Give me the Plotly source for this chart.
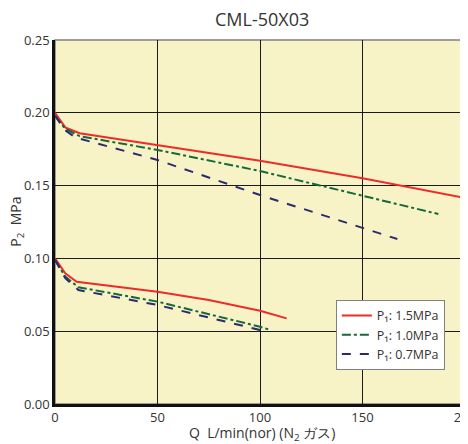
import plotly.graph_objects as go

# Upper set (P2 set ~0.20 MPa)
q_hi_15 = [0, 5, 12, 50, 100, 150, 200]
p_hi_15 = [0.200, 0.190, 0.186, 0.178, 0.167, 0.155, 0.1415]
q_hi_10 = [0, 5, 12, 50, 100, 150, 187]
p_hi_10 = [0.198, 0.189, 0.184, 0.1745, 0.160, 0.143, 0.1305]
q_hi_07 = [0, 5, 10, 50, 100, 150, 167]
p_hi_07 = [0.198, 0.188, 0.183, 0.1676, 0.1435, 0.121, 0.1133]

# Lower set (P2 set ~0.10 MPa)
q_lo_15 = [0, 5, 10.6, 50, 75, 100, 113]
p_lo_15 = [0.100, 0.0897, 0.084, 0.0771, 0.0714, 0.0641, 0.0588]
q_lo_10 = [0, 5, 11.4, 50, 100, 104]
p_lo_10 = [0.099, 0.0875, 0.0802, 0.0703, 0.0531, 0.0513]
q_lo_07 = [0, 5, 11.4, 50, 100, 102.4]
p_lo_07 = [0.099, 0.0865, 0.0783, 0.068, 0.0508, 0.049]

x_ticks = [0, 50, 100, 150, 200]
y_ticks = [0.00, 0.05, 0.10, 0.15, 0.20, 0.25]

names = ["P₁: 1.5MPa", "P₁: 1.0MPa", "P₁: 0.7MPa"]
colors = ["#ee2b2b", "#17693a", "#2b2a6e"]
dashes = ["solid", "dashdot", "dash"]

fig = go.Figure()
hi = [(q_hi_15, p_hi_15), (q_hi_10, p_hi_10), (q_hi_07, p_hi_07)]
lo = [(q_lo_15, p_lo_15), (q_lo_10, p_lo_10), (q_lo_07, p_lo_07)]
for i in range(3):
    fig.add_trace(go.Scatter(x=hi[i][0], y=hi[i][1], mode="lines", name=names[i],
                             line=dict(color=colors[i], width=2, dash=dashes[i]),
                             legendgroup=str(i), showlegend=True))
    fig.add_trace(go.Scatter(x=lo[i][0], y=lo[i][1], mode="lines", name=names[i],
                             line=dict(color=colors[i], width=2, dash=dashes[i]),
                             legendgroup=str(i), showlegend=False))

fig.add_shape(type="rect", xref="paper", yref="paper", x0=0, y0=0, x1=1, y1=1,
              line=dict(color="#808080", width=1.5), layer="below")

fig.add_annotation(text="P<sub>2</sub>  MPa", xref="paper", yref="paper",
                   x=-0.096, y=0.5, xanchor="center", yanchor="middle",
                   textangle=-90, showarrow=False,
                   font=dict(size=14, color="#333333"))
fig.add_annotation(text="Q  L/min(nor) (N<sub>2</sub> ガス)", xref="paper", yref="paper",
                   x=0.505, y=-0.082, xanchor="center", yanchor="middle",
                   showarrow=False, font=dict(size=14, color="#333333"))

fig.update_layout(
    width=468, height=444,
    margin=dict(l=47, r=11, t=32, b=48),
    paper_bgcolor="white", plot_bgcolor="#f7f3c6",
    font=dict(family="Open Sans, DejaVu Sans, sans-serif", color="#333333", size=13),
    title=dict(text="CML-50X03", x=0.543, xref="container", xanchor="center",
               y=0.973, yref="container", yanchor="middle",
               font=dict(size=18, color="#333333")),
    showlegend=True,
    legend=dict(x=0.685, y=0.286, xanchor="left", yanchor="top",
                bgcolor="white", bordercolor="#808080", borderwidth=1,
                font=dict(size=12.5, color="#333333"), tracegroupgap=0,
                itemwidth=30),
)
fig.update_xaxes(range=[0, 200], tickvals=x_ticks, ticktext=[str(v) for v in x_ticks],
                 showgrid=True, gridcolor="#1a1a1a", gridwidth=1.2,
                 showline=True, linecolor="#111111", linewidth=2.5,
                 zeroline=False, ticks="", fixedrange=True, automargin=False,
                 ticklabeloverflow="allow",
                 tickfont=dict(size=13, color="#333333"))
fig.update_yaxes(range=[0, 0.25], tickvals=y_ticks, ticktext=[f"{v:.2f}" for v in y_ticks],
                 showgrid=True, gridcolor="#1a1a1a", gridwidth=1.2,
                 showline=True, linecolor="#111111", linewidth=2.5,
                 zeroline=False, ticks="", fixedrange=True, automargin=False,
                 tickfont=dict(size=13, color="#333333"))

fig.write_html("out.html")
